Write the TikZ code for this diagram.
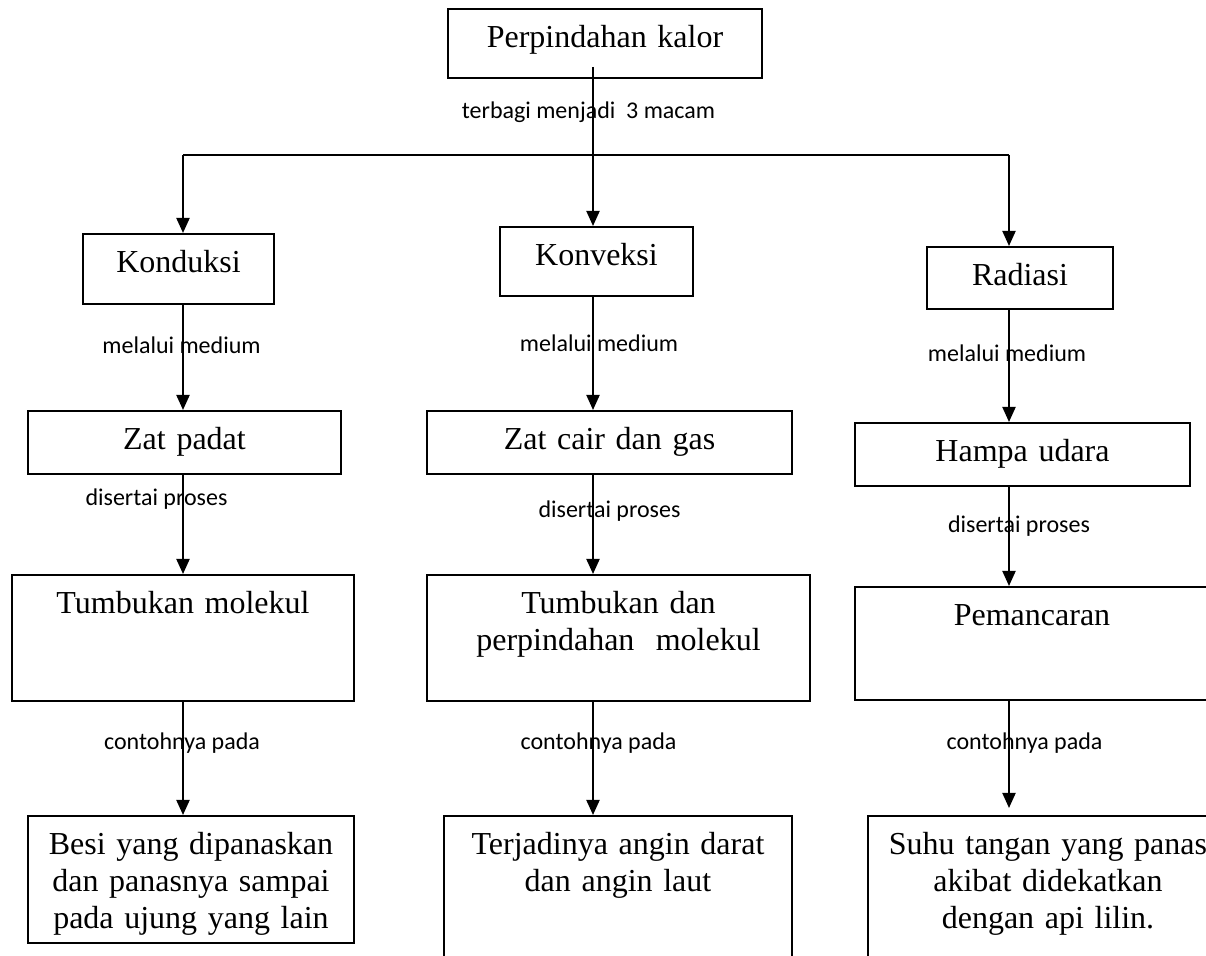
\documentclass[tikz,border=0pt]{standalone}
\usepackage{fontspec}
\setmainfont{Liberation Serif}
\newfontfamily\calibri{Carlito}
\usetikzlibrary{arrows.meta}

\begin{document}
\begin{tikzpicture}[x=0.5pt, y=-0.5pt,
    box/.style={draw, line width=1pt, anchor=north, inner sep=0pt, align=center, text height=19.5pt, font=\fontsize{16}{18.35}\selectfont},
    lbl/.style={anchor=base, inner sep=0pt, font=\calibri\fontsize{12}{14}\selectfont},
    arr/.style={-{Triangle[length=7.5pt, width=6.5pt]}, line width=1pt},
    link/.style={line width=1pt}
  ]
  \useasboundingbox (0,0) rectangle (1206,956);
  \fill[white] (0,0) rectangle (1206,956);
  \clip (0,0) rectangle (1206,956);

  \node[box, text width=157pt, text depth=15pt] (kalor) at (605,8) {Perpindahan kalor};
  \coordinate (c1) at (183,155);
  \coordinate (c2) at (593,155);
  \coordinate (c3) at (1009,155);

  \node[box, text width=95.5pt, text depth=15.5pt] (kond) at (178.5,233) {Konduksi};
  \node[box, text width=96.5pt, text depth=15pt] (konv) at (596.5,226) {Konveksi};
  \node[box, text width=93pt, text depth=11.5pt] (rad) at (1020,246) {Radiasi};

  \node[box, text width=156.5pt, text depth=12pt] (padat) at (184.5,410) {Zat padat};
  \node[box, text width=182.5pt, text depth=12pt] (cair) at (609.5,410) {Zat cair dan gas};
  \node[box, text width=167.5pt, text depth=12pt] (hampa) at (1022.5,422) {Hampa udara};

  \node[box, text width=171pt, text depth=43.5pt] (tumb) at (183,574) {Tumbukan molekul};
  \node[box, text width=191.5pt, text depth=43.5pt] (tumbpin) at (618.5,574) {Tumbukan dan\\perpindahan\ \ molekul};
  \node[box, text width=177pt, text depth=37pt] (pancar) at (1032,586) {Pemancaran};

  \node[box, text width=163pt, text depth=44pt] (besi) at (191,815) {Besi yang dipanaskan\\dan panasnya sampai\\pada ujung yang lain};
  \node[box, text width=174pt, text depth=80pt] (angin) at (618,815) {Terjadinya angin darat\\dan angin laut};
  \node[box, text width=180pt, text depth=80pt] (suhu) at (1048,815) {Suhu tangan yang panas\\akibat didekatkan\\dengan api lilin.};

  \node[lbl] (bagi) at (588.5,119) {terbagi menjadi\ \ 3 macam};
  \node[lbl] (med1) at (181.5,354) {melalui medium};
  \node[lbl] (med2) at (599,352) {melalui medium};
  \node[lbl] (med3) at (1007,362) {melalui medium};
  \node[lbl] (pros1) at (156.5,506) {disertai proses};
  \node[lbl] (pros2) at (609.5,518) {disertai proses};
  \node[lbl] (pros3) at (1019,533) {disertai proses};
  \node[lbl] (cth1) at (182,750) {contohnya pada};
  \node[lbl] (cth2) at (598.5,750) {contohnya pada};
  \node[lbl] (cth3) at (1024.5,750) {contohnya pada};

  \draw[arr] (kalor.south -| c2) ++(0,-12) -- (c2 |- konv.north);
  \draw[link] (c1) -- (c3);
  \draw[arr] (c1) -- (c1 |- kond.north);
  \draw[arr] (c3) -- (c3 |- rad.north);

  \draw[arr] (c1 |- kond.south) -- (c1 |- padat.north);
  \draw[arr] (c1 |- padat.south) -- (c1 |- tumb.north);
  \draw[arr] (c1 |- tumb.south) -- (c1 |- besi.north);

  \draw[arr] (c2 |- konv.south) -- (c2 |- cair.north);
  \draw[arr] (c2 |- cair.south) -- (c2 |- tumbpin.north);
  \draw[arr] (c2 |- tumbpin.south) -- (c2 |- angin.north);

  \draw[arr] (c3 |- rad.south) -- (c3 |- hampa.north);
  \draw[arr] (c3 |- hampa.south) -- (c3 |- pancar.north);
  \draw[arr] (c3 |- pancar.south) -- ([yshift=3.5pt]c3 |- suhu.north);
\end{tikzpicture}
\end{document}
